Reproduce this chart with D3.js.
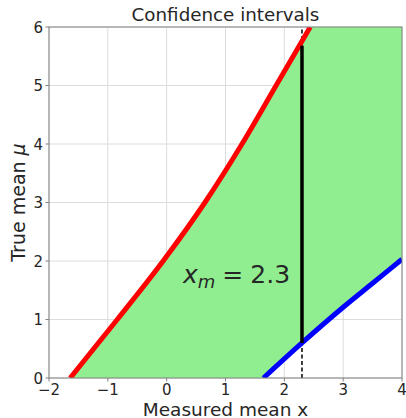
<!DOCTYPE html>
<html>
<head>
<meta charset="utf-8">
<script src="https://cdn.jsdelivr.net/npm/d3@7"></script>
<style>
  body { margin: 0; padding: 0; overflow: hidden; background: #fff; }
  text { font-family: "DejaVu Sans", sans-serif; fill: #262626; }
</style>
</head>
<body>
<script>
    // upper limit (red): measured x at each true mean
    const upperX  = [-1.64, -0.84, -0.06, 0.65, 1.28, 1.86, 2.44];
    const upperMu = [0, 1, 2, 3, 4, 5, 6];
    // lower limit (blue)
    const lowerX  = [1.645, 2.3, 3.0, 3.5, 4.0];
    const lowerMu = [0, 0.60, 1.21, 1.62, 2.03];
    const xm = 2.3;
    const xmLow = 0.60, xmHigh = 5.68;
    const xTicks = [-2, -1, 0, 1, 2, 3, 4];
    const yTicks = [0, 1, 2, 3, 4, 5, 6];

    const width = 406, height = 418;
    const margin = {top: 27, right: 4, bottom: 40, left: 49};

    const svg = d3.select("body").append("svg")
      .attr("width", width)
      .attr("height", height);

    const x = d3.scaleLinear().domain([-2, 4]).range([margin.left, width - margin.right]);
    const y = d3.scaleLinear().domain([0, 6]).range([height - margin.bottom, margin.top]);

    svg.append("clipPath").attr("id", "clip")
      .append("rect")
      .attr("x", x(-2)).attr("y", y(6))
      .attr("width", x(4) - x(-2)).attr("height", y(0) - y(6));

    // grid
    const grid = svg.append("g");
    grid.selectAll(".gx").data(xTicks).enter().append("line")
      .attr("x1", d => x(d)).attr("x2", d => x(d))
      .attr("y1", y(0)).attr("y2", y(6))
      .attr("stroke", "#dcdcdc").attr("stroke-width", 1);
    grid.selectAll(".gy").data(yTicks).enter().append("line")
      .attr("x1", x(-2)).attr("x2", x(4))
      .attr("y1", d => y(d)).attr("y2", d => y(d))
      .attr("stroke", "#dcdcdc").attr("stroke-width", 1);

    const upper = upperX.map((d, i) => [d, upperMu[i]]);
    const lower = lowerX.map((d, i) => [d, lowerMu[i]]);

    const plot = svg.append("g").attr("clip-path", "url(#clip)");

    const line = d3.line().x(d => x(d[0])).y(d => y(d[1])).curve(d3.curveMonotoneX);

    // band between the two limits
    plot.append("path")
      .attr("d", line(upper) + "L" + x(4) + "," + y(6) + line(lower.slice().reverse()).replace(/^M/, "L") + "Z")
      .attr("fill", "#90ee90");

    // dashed marker at measured value
    plot.append("line")
      .attr("x1", x(xm)).attr("x2", x(xm))
      .attr("y1", y(0)).attr("y2", y(6))
      .attr("stroke", "#000").attr("stroke-width", 1.5)
      .attr("stroke-dasharray", "4,2.5");

    plot.append("path").attr("d", line(upper))
      .attr("fill", "none").attr("stroke", "#ff0000").attr("stroke-width", 5);
    plot.append("path").attr("d", line(lower))
      .attr("fill", "none").attr("stroke", "#0000ff").attr("stroke-width", 5);

    plot.append("line")
      .attr("x1", x(xm)).attr("x2", x(xm))
      .attr("y1", y(xmLow)).attr("y2", y(xmHigh))
      .attr("stroke", "#000").attr("stroke-width", 3.5);

    // spines
    svg.append("rect")
      .attr("x", x(-2)).attr("y", y(6))
      .attr("width", x(4) - x(-2)).attr("height", y(0) - y(6))
      .attr("fill", "none").attr("stroke", "#808080").attr("stroke-width", 1);

    // ticks
    const fmt = d => d < 0 ? "\u2212" + Math.abs(d) : String(d);
    const xAxis = svg.append("g");
    xAxis.selectAll("line").data(xTicks).enter().append("line")
      .attr("x1", d => x(d)).attr("x2", d => x(d))
      .attr("y1", y(0)).attr("y2", y(0) + 3.5)
      .attr("stroke", "#808080");
    xAxis.selectAll("text").data(xTicks).enter().append("text")
      .attr("x", d => x(d)).attr("y", y(0) + 16.5)
      .attr("text-anchor", "middle").attr("font-size", 15)
      .text(fmt);

    const yAxis = svg.append("g");
    yAxis.selectAll("line").data(yTicks).enter().append("line")
      .attr("x1", x(-2) - 3.5).attr("x2", x(-2))
      .attr("y1", d => y(d)).attr("y2", d => y(d))
      .attr("stroke", "#808080");
    yAxis.selectAll("text").data(yTicks).enter().append("text")
      .attr("x", x(-2) - 6).attr("y", d => y(d) + 5.5)
      .attr("text-anchor", "end").attr("font-size", 15)
      .text(fmt);

    // labels
    svg.append("text")
      .attr("x", (x(-2) + x(4)) / 2).attr("y", 21)
      .attr("text-anchor", "middle").attr("font-size", 18.3)
      .text("Confidence intervals");

    svg.append("text")
      .attr("x", (x(-2) + x(4)) / 2).attr("y", 415.5)
      .attr("text-anchor", "middle").attr("font-size", 18.5)
      .text("Measured mean x");

    const yl = svg.append("text")
      .attr("transform", "translate(25," + ((y(0) + y(6)) / 2) + ") rotate(-90)")
      .attr("text-anchor", "middle").attr("font-size", 19);
    yl.append("tspan").text("True mean ");
    yl.append("tspan").attr("font-style", "italic").text("\u03bc");

    const ann = svg.append("text")
      .attr("x", 183).attr("y", 283)
      .attr("font-size", 25);
    ann.append("tspan").attr("font-style", "italic").text("x");
    ann.append("tspan").attr("font-style", "italic").attr("font-size", 18).attr("dy", 5).text("m");
    ann.append("tspan").attr("dy", -5).attr("dx", 7).text("=");
    ann.append("tspan").attr("dx", 7).text("2.3");
</script>
</body>
</html>
